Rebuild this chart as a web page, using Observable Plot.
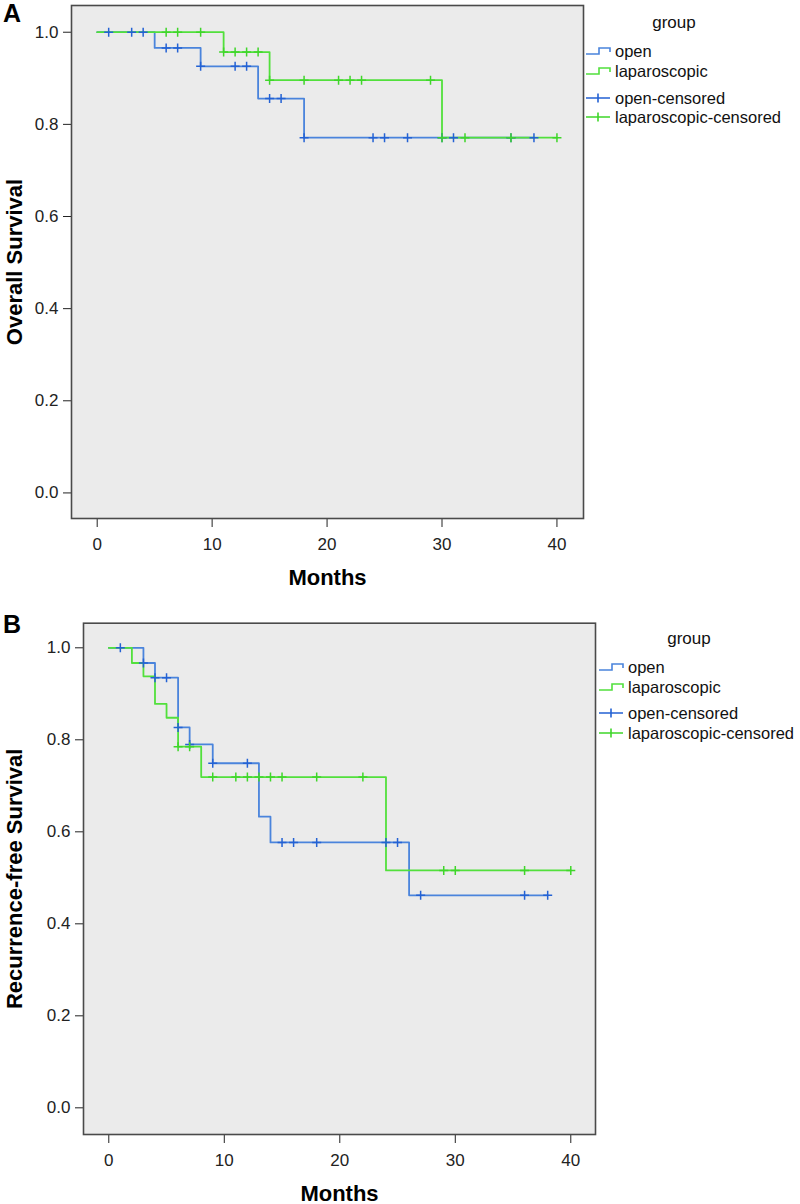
<!DOCTYPE html>
<html><head><meta charset="utf-8">
<script src="https://cdn.jsdelivr.net/npm/d3@7"></script>
<script src="https://cdn.jsdelivr.net/npm/@observablehq/plot@0.6"></script>
<style>
body{margin:0;background:#fff;font-family:"Liberation Sans",Arial,sans-serif;}
#wrap{position:relative;width:800px;height:1204px;overflow:hidden;background:#fff;}
.panel{position:absolute;left:0;}
.plab{position:absolute;font-weight:bold;font-size:25px;line-height:25px;color:#000;}
.lg{position:absolute;font-size:16.5px;line-height:18px;color:#111;white-space:nowrap;}
svg [aria-label="y-axis label"] text, svg [aria-label="x-axis label"] text{font-weight:bold;fill:#000;font-size:22px;}
</style></head>
<body><div id="wrap"></div>
<script>
// ---- Data ----
const xTicks = [0, 10, 20, 30, 40];
const yTicks = [0.0, 0.2, 0.4, 0.6, 0.8, 1.0];
const groups = ["open", "laparoscopic"];
const legendLabels = ["open", "laparoscopic", "open-censored", "laparoscopic-censored"];

// Panel A: Overall Survival
const osOpenTime = [0, 5, 9, 14, 18, 38];
const osOpenSurv = [1.0, 0.966, 0.926, 0.856, 0.771, 0.771];
const osOpenCensor = [1, 3, 4, 6, 7, 9, 12, 13, 15, 16, 18, 24, 25, 27, 30, 31, 36, 38];
const osLapTime = [0, 11, 15, 30, 40];
const osLapSurv = [1.0, 0.957, 0.896, 0.771, 0.771];
const osLapCensor = [6, 7, 9, 11, 12, 13, 14, 15, 18, 21, 22, 23, 29, 30, 32, 36, 40];

// Panel B: Recurrence-free Survival
const rfsOpenTime = [0, 3, 4, 6, 7, 9, 13, 14, 26, 38];
const rfsOpenSurv = [1.0, 0.967, 0.935, 0.827, 0.790, 0.749, 0.633, 0.577, 0.462, 0.462];
const rfsOpenCensor = [1, 3, 4, 5, 6, 7, 9, 12, 15, 16, 18, 24, 25, 27, 36, 38];
const rfsLapTime = [0, 2, 3, 4, 5, 6, 8, 24, 40];
const rfsLapSurv = [1.0, 0.967, 0.938, 0.878, 0.848, 0.785, 0.719, 0.516, 0.516];
const rfsLapCensor = [6, 7, 9, 11, 12, 13, 14, 15, 18, 22, 29, 30, 36, 40];

const lineColor = {open: "#4a84dc", laparoscopic: "#52e03c"};
const markColor = {open: "#2462d4", laparoscopic: "#3fd62a"};

// ---- helpers ----
function steps(times, surv, group) { return times.map((t, i) => ({t, s: surv[i], group})); }
function survAt(times, surv, t) { let s = surv[0]; times.forEach((ti, i) => { if (ti <= t) s = surv[i]; }); return s; }
function censors(ct, times, surv, group) { return ct.map(t => ({t, s: survAt(times, surv, t), group})); }
const plusSym = {draw(ctx, size) { const r = Math.sqrt(size / Math.PI); ctx.moveTo(-r, 0); ctx.lineTo(r, 0); ctx.moveTo(0, -r); ctx.lineTo(0, r); }};

function km(cfg) {
  const marks = [Plot.frame({fill: "#ebebeb", stroke: null})];
  cfg.series.forEach(sr => {
    marks.push(Plot.line(steps(sr.time, sr.surv, sr.group), {x: "t", y: "s", curve: "step-after", stroke: lineColor[sr.group], strokeWidth: 1.8}));
  });
  cfg.series.forEach(sr => {
    marks.push(Plot.dot(censors(sr.censor, sr.time, sr.surv, sr.group), {x: "t", y: "s", symbol: plusSym, r: 4.5, fill: "none", stroke: markColor[sr.group], strokeWidth: 1.5}));
  });
  marks.push(Plot.axisY({ticks: yTicks, tickFormat: d3.format(".1f"), tickSize: 8, tickPadding: 5, fontSize: 17, color: "#222", label: cfg.ylabel, labelAnchor: "center", labelArrow: "none", labelOffset: cfg.yLabelOffset}));
  marks.push(Plot.axisX({ticks: xTicks, tickSize: 9, tickPadding: 10, fontSize: 17, color: "#222", label: "Months", labelAnchor: "center", labelArrow: "none", labelOffset: 66}));
  marks.push(Plot.frame({stroke: "#4a4a4a", strokeWidth: 1.6}));
  return Plot.plot({
    width: 800, height: cfg.height,
    marginLeft: cfg.ml, marginRight: cfg.mr, marginTop: cfg.mt, marginBottom: cfg.mb,
    style: {fontFamily: '"Liberation Sans", Arial, sans-serif', fontSize: "17px", background: "transparent", overflow: "visible"},
    x: {domain: cfg.xd}, y: {domain: cfg.yd},
    marks
  });
}

const wrap = document.getElementById("wrap");
function addPanel(top, chart) {
  const d = document.createElement("div"); d.className = "panel"; d.style.top = top + "px"; d.appendChild(chart); wrap.appendChild(d);
}
function addText(cls, text, left, top) {
  const d = document.createElement("div"); d.className = cls; d.textContent = text; d.style.left = left + "px"; d.style.top = top + "px";
  wrap.appendChild(d); return d;
}

// Panel A
addPanel(0, km({
  height: 600, ml: 71, mr: 217, mt: 5, mb: 82,
  xd: [-2.235, 42.31], yd: [-0.0555, 1.058],
  ylabel: "Overall Survival", yLabelOffset: 65,
  series: [
    {group: "open", time: osOpenTime, surv: osOpenSurv, censor: osOpenCensor},
    {group: "laparoscopic", time: osLapTime, surv: osLapSurv, censor: osLapCensor}
  ]
}));
// Panel B
addPanel(600, km({
  height: 604, ml: 83, mr: 205, mt: 22.7, mb: 70,
  xd: [-2.19, 42.14], yd: [-0.058, 1.0535],
  ylabel: "Recurrence-free Survival", yLabelOffset: 77,
  series: [
    {group: "open", time: rfsOpenTime, surv: rfsOpenSurv, censor: rfsOpenCensor},
    {group: "laparoscopic", time: rfsLapTime, surv: rfsLapSurv, censor: rfsLapCensor}
  ]
}));

addText("plab", "A", 3, 1);
addText("plab", "B", 3, 612);

function legendBlock(iconX, textX, titleCX, titleCY, rowYs) {
  const t = document.createElement("div"); t.className = "lg"; t.textContent = "group";
  t.style.fontSize = "17px"; t.style.top = (titleCY - 9) + "px"; t.style.left = titleCX + "px"; t.style.transform = "translateX(-50%)";
  wrap.appendChild(t);
  rowYs.forEach((cy, i) => {
    const g = groups[i % 2];
    const d = document.createElement("div"); d.className = "lg"; d.textContent = legendLabels[i];
    d.style.left = textX + "px"; d.style.top = (cy - 9) + "px"; wrap.appendChild(d);
    const svg = document.createElementNS("http://www.w3.org/2000/svg", "svg");
    svg.setAttribute("width", "26"); svg.setAttribute("height", "18");
    svg.style.position = "absolute"; svg.style.left = iconX + "px"; svg.style.top = (cy - 9) + "px"; svg.style.overflow = "visible";
    const p = document.createElementNS("http://www.w3.org/2000/svg", "path");
    p.setAttribute("d", i < 2 ? "M0,12 H13 V6 H24 V10" : "M0,9 H24 M12,4.5 V13.5");
    p.setAttribute("fill", "none"); p.setAttribute("stroke", i < 2 ? lineColor[g] : markColor[g]); p.setAttribute("stroke-width", "1.6");
    svg.appendChild(p); wrap.appendChild(svg);
  });
}
legendBlock(586, 615, 674, 23, [51, 71, 98, 117]);
legendBlock(599, 628, 689, 639, [667, 687, 713, 733]);
</script>
</body></html>
